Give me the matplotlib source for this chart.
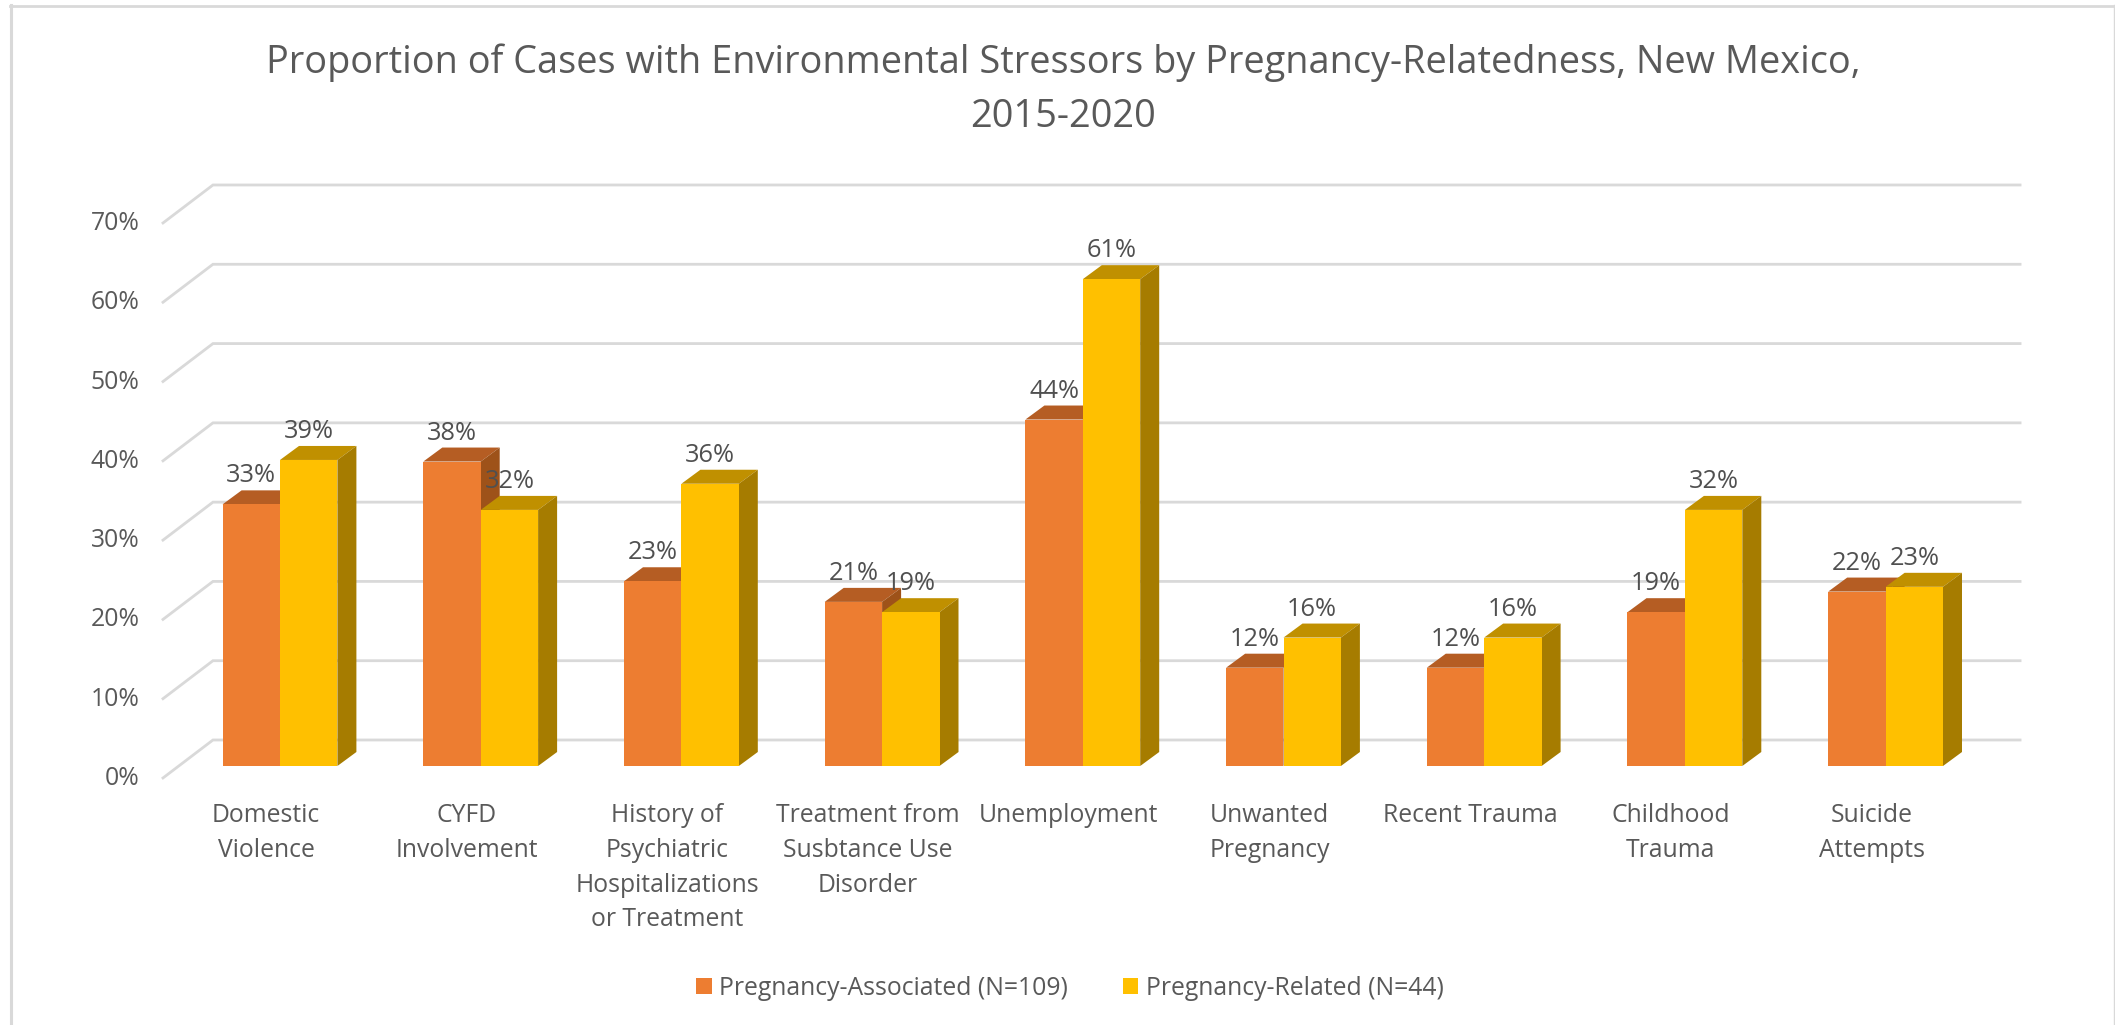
import matplotlib
matplotlib.use("Agg")
import matplotlib.pyplot as plt
from matplotlib.patches import Polygon, Patch
from matplotlib.lines import Line2D
from matplotlib.transforms import ScaledTranslation

plt.rcParams['font.family'] = ['Open Sans', 'DejaVu Sans']

categories = ["Domestic\nViolence", "CYFD\nInvolvement",
              "History of\nPsychiatric\nHospitalizations\nor Treatment",
              "Treatment from\nSusbtance Use\nDisorder", "Unemployment",
              "Unwanted\nPregnancy", "Recent Trauma", "Childhood\nTrauma",
              "Suicide\nAttempts"]
associated = [33.0, 38.4, 23.3, 20.7, 43.7, 12.4, 12.4, 19.4, 22.0]
related = [38.6, 32.3, 35.6, 19.4, 61.4, 16.2, 16.2, 32.3, 22.6]
y_ticks = [0, 10, 20, 30, 40, 50, 60, 70]
name_a = "Pregnancy-Associated (N=109)"
name_b = "Pregnancy-Related (N=44)"
title = "Proportion of Cases with Environmental Stressors by Pregnancy-Relatedness, New Mexico,\n2015-2020"

W, H = 2115, 1025
TXT = "#595959"
GRID = "#d9d9d9"
fig = plt.figure(figsize=(W / 100, H / 100), dpi=100, facecolor="white")
ax = fig.add_axes([179.65 / W, 1 - 766 / H, (1985.95 - 179.65) / W, 555 / H])
ax.set_xlim(-0.5, 8.5)
ax.set_ylim(0, 70)
ax.patch.set_visible(False)
for s in ax.spines.values():
    s.set_visible(False)

# 3-D look: depth of the floor/wall and of the bars, in data units
wall_dx0, wall_dx1, wall_dy0, wall_dy1 = -0.583, -0.334, -1.51, 3.28
wall_right = 8.67
bar_w = 0.286
dep_x, dep_y = 19 / 200.7, 14 / 7.93

for v in y_ticks:
    ax.plot([wall_dx0, wall_dx1, wall_right], [v + wall_dy0, v + wall_dy1, v + wall_dy1],
            color=GRID, lw=2.0, clip_on=False, zorder=1, solid_joinstyle="miter")


def bar3d(x0, v, front, top, side, z):
    ax.bar(x0, v, width=bar_w, align="edge", color=front, linewidth=0, zorder=z + 0.2)
    x1 = x0 + bar_w
    ax.add_patch(Polygon([(x0, v), (x1, v), (x1 + dep_x, v + dep_y), (x0 + dep_x, v + dep_y)],
                         closed=True, fc=top, ec="none", clip_on=False, zorder=z))
    ax.add_patch(Polygon([(x1, 0), (x1 + dep_x, dep_y), (x1 + dep_x, v + dep_y), (x1, v)],
                         closed=True, fc=side, ec="none", clip_on=False, zorder=z))


for i, (a, b) in enumerate(zip(associated, related)):
    bar3d(i - bar_w, a, "#ED7D31", "#B55D23", "#9E5219", 3)
    bar3d(i, b, "#FFC000", "#C09000", "#A67C00", 4)

label_off = 28.5 * 0.72
for i, (a, b) in enumerate(zip(associated, related)):
    ax.annotate(f"{a:.0f}%", (i - bar_w / 2, a), xytext=(0, label_off), textcoords="offset points",
                ha="center", va="center", fontsize=18.3, color="#505050", zorder=6, annotation_clip=False)
    ax.annotate(f"{b:.0f}%", (i + bar_w / 2, b), xytext=(0, label_off), textcoords="offset points",
                ha="center", va="center", fontsize=18.3, color="#505050", zorder=6, annotation_clip=False)

ax.set_yticks(y_ticks)
ax.set_yticklabels([f"{v}%" for v in y_ticks], fontsize=17.8, color=TXT)
ax.tick_params(axis="y", length=0, pad=29)
ax.set_xticks(range(len(categories)))
ax.set_xticklabels(categories, fontsize=17.8, color=TXT, linespacing=1.5, ha="center", va="top")
ax.tick_params(axis="x", length=0, pad=27)
off_y = ScaledTranslation(0, -9.5 / 100, fig.dpi_scale_trans)
for lab in ax.get_yticklabels():
    lab.set_transform(lab.get_transform() + off_y)
off_x = ScaledTranslation(-14 / 100, 0, fig.dpi_scale_trans)
for lab in ax.get_xticklabels():
    lab.set_transform(lab.get_transform() + off_x)

fig.text(1063 / W, 1 - 89.5 / H, title, ha="center", va="center", fontsize=27.3, color=TXT, linespacing=1.55)

handles = [Patch(fc="#ED7D31", ec="none", label=name_a), Patch(fc="#FFC000", ec="none", label=name_b)]
fig.legend(handles=handles, loc="center", bbox_to_anchor=(1070 / W, 1 - 988.5 / H), ncol=2, frameon=False,
           fontsize=17.8, labelcolor=TXT, handlelength=0.61, handleheight=0.61,
           handletextpad=0.32, columnspacing=2.2)

# chart-area frame
fig.add_artist(Line2D([10.5 / W, 10.5 / W], [0, 1 - 5 / H], color=GRID, lw=2.2, transform=fig.transFigure))
fig.add_artist(Line2D([10 / W, 1], [1 - 5.5 / H, 1 - 5.5 / H], color=GRID, lw=2.0, transform=fig.transFigure))
fig.add_artist(Line2D([2114 / W, 2114 / W], [0, 1 - 5 / H], color=GRID, lw=1.0, transform=fig.transFigure))

fig.savefig("out.png", dpi=100, facecolor="white")
